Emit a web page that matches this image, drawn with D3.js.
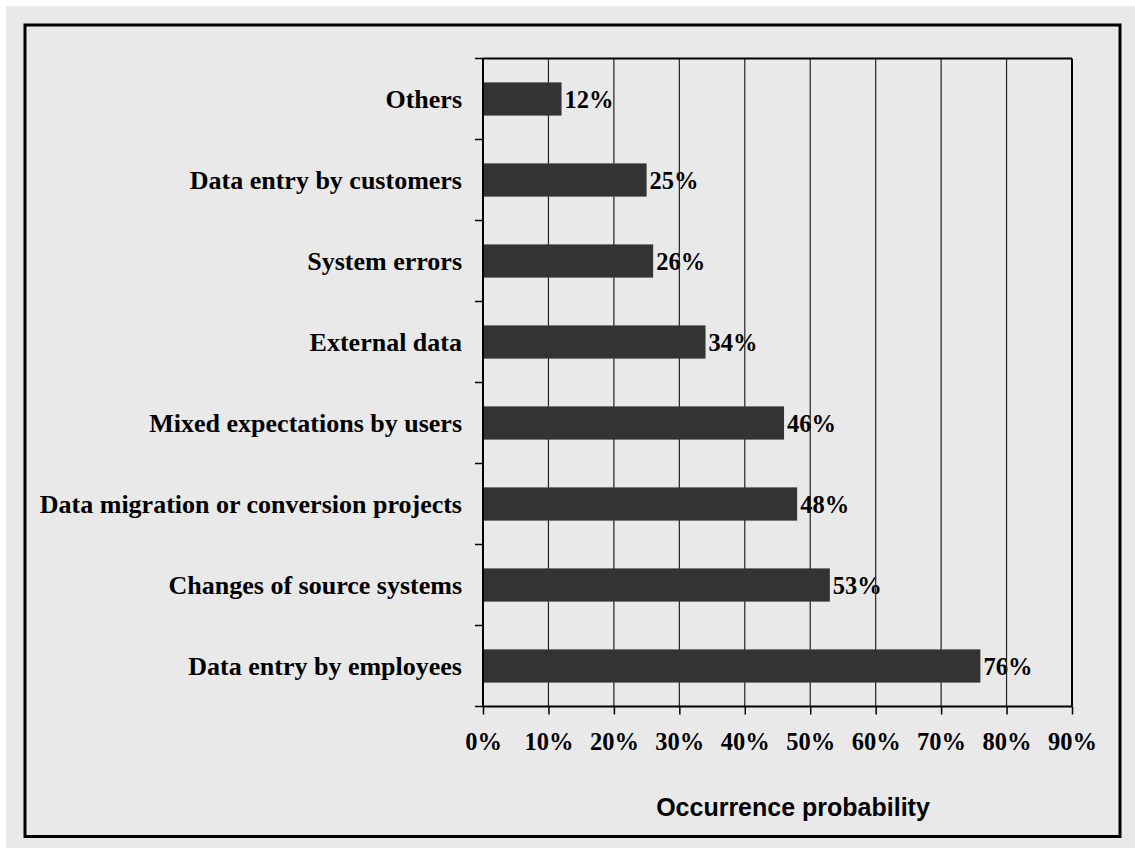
<!DOCTYPE html>
<html>
<head>
<meta charset="utf-8">
<script src="https://cdn.jsdelivr.net/npm/d3@7/dist/d3.min.js"></script>
<style>
  html, body { margin: 0; padding: 0; background: #ffffff; }
  svg { display: block; }
</style>
</head>
<body>
<svg id="chart" width="1135" height="848"></svg>
<script>
// Causes of data quality problems and how often they occur
const categories = [
  "Others",
  "Data entry by customers",
  "System errors",
  "External data",
  "Mixed expectations by users",
  "Data migration or conversion projects",
  "Changes of source systems",
  "Data entry by employees"
];
const values = [12, 25, 26, 34, 46, 48, 53, 76];
const xTicks = [0, 10, 20, 30, 40, 50, 60, 70, 80, 90];
const xTitle = "Occurrence probability";

const svg = d3.select("#chart");
const W = 1135, H = 848;

// page background and framed panel
svg.append("rect").attr("x", 6).attr("y", 6).attr("width", W - 6).attr("height", H - 6)
  .attr("fill", "#e9e9e9");
svg.append("rect").attr("x", 25).attr("y", 25).attr("width", 1095).attr("height", 811.5)
  .attr("fill", "#e9e9e9").attr("stroke", "#000").attr("stroke-width", 3);

const plot = { left: 483, right: 1072, top: 58.5, bottom: 706.5 };

const x = d3.scaleLinear().domain([0, 90]).range([plot.left, plot.right]);
const y = d3.scaleBand().domain(categories).range([plot.top, plot.bottom])
  .paddingInner(0.59).paddingOuter(0.295);
const yEdge = d3.scaleLinear().domain([0, categories.length]).range([plot.top, plot.bottom]);

const serif = "'Liberation Serif', 'Times New Roman', serif";
const sans = "'Liberation Sans', Arial, sans-serif";

// value labels (gridlines are drawn over them)
svg.append("g").selectAll("text").data(values).join("text")
  .attr("x", d => x(d) + 3)
  .attr("y", (d, i) => y(categories[i]) + y.bandwidth() / 2 + 9)
  .style("font-family", serif).style("font-weight", "bold").style("font-size", "24.5px")
  .attr("fill", "#000")
  .text(d => d + "%");

// vertical gridlines
svg.append("g").selectAll("line").data(xTicks.filter(d => d > 0 && d < 90)).join("line")
  .attr("x1", d => x(d)).attr("x2", d => x(d))
  .attr("y1", plot.top).attr("y2", plot.bottom)
  .attr("stroke", "#222").attr("stroke-width", 1.2);

// bars
svg.append("g").selectAll("rect").data(values).join("rect")
  .attr("x", x(0))
  .attr("y", (d, i) => y(categories[i]))
  .attr("width", d => x(d) - x(0))
  .attr("height", y.bandwidth())
  .attr("fill", "#333333");

// plot border: top and right
svg.append("line").attr("x1", plot.left).attr("x2", plot.right)
  .attr("y1", plot.top).attr("y2", plot.top).attr("stroke", "#000").attr("stroke-width", 2);
svg.append("line").attr("x1", plot.right).attr("x2", plot.right)
  .attr("y1", plot.top).attr("y2", plot.bottom).attr("stroke", "#000").attr("stroke-width", 2);

// x axis
const xAxis = d3.axisBottom(x).tickValues(xTicks).tickSize(8).tickPadding(18)
  .tickFormat(d => d + "%");
const gx = svg.append("g").attr("transform", `translate(0,${plot.bottom})`).call(xAxis);
gx.select(".domain").attr("stroke", "#000").attr("stroke-width", 2)
  .attr("d", `M${plot.left},0H${plot.right}`);
gx.selectAll(".tick line").attr("stroke", "#000").attr("stroke-width", 1.5);
gx.selectAll(".tick text")
  .attr("fill", "#000")
  .style("font-family", serif).style("font-weight", "bold").style("font-size", "24.5px");

// y axis with ticks on category boundaries
const gy = svg.append("g");
gy.append("line").attr("x1", plot.left).attr("x2", plot.left)
  .attr("y1", plot.top).attr("y2", plot.bottom).attr("stroke", "#000").attr("stroke-width", 2);
gy.selectAll("line.edge").data(d3.range(categories.length + 1)).join("line")
  .attr("class", "edge")
  .attr("x1", plot.left - 8).attr("x2", plot.left)
  .attr("y1", d => yEdge(d)).attr("y2", d => yEdge(d))
  .attr("stroke", "#000").attr("stroke-width", 1.5);

// category labels
svg.append("g").selectAll("text").data(categories).join("text")
  .attr("x", 462)
  .attr("y", d => y(d) + y.bandwidth() / 2 + 9)
  .attr("text-anchor", "end")
  .style("font-family", serif).style("font-weight", "bold").style("font-size", "26px")
  .attr("fill", "#000")
  .text(d => d);

// axis title
svg.append("text").attr("x", 793).attr("y", 816)
  .attr("text-anchor", "middle")
  .style("font-family", sans).style("font-weight", "bold").style("font-size", "25px")
  .attr("fill", "#000")
  .text(xTitle);
</script>
</body>
</html>
